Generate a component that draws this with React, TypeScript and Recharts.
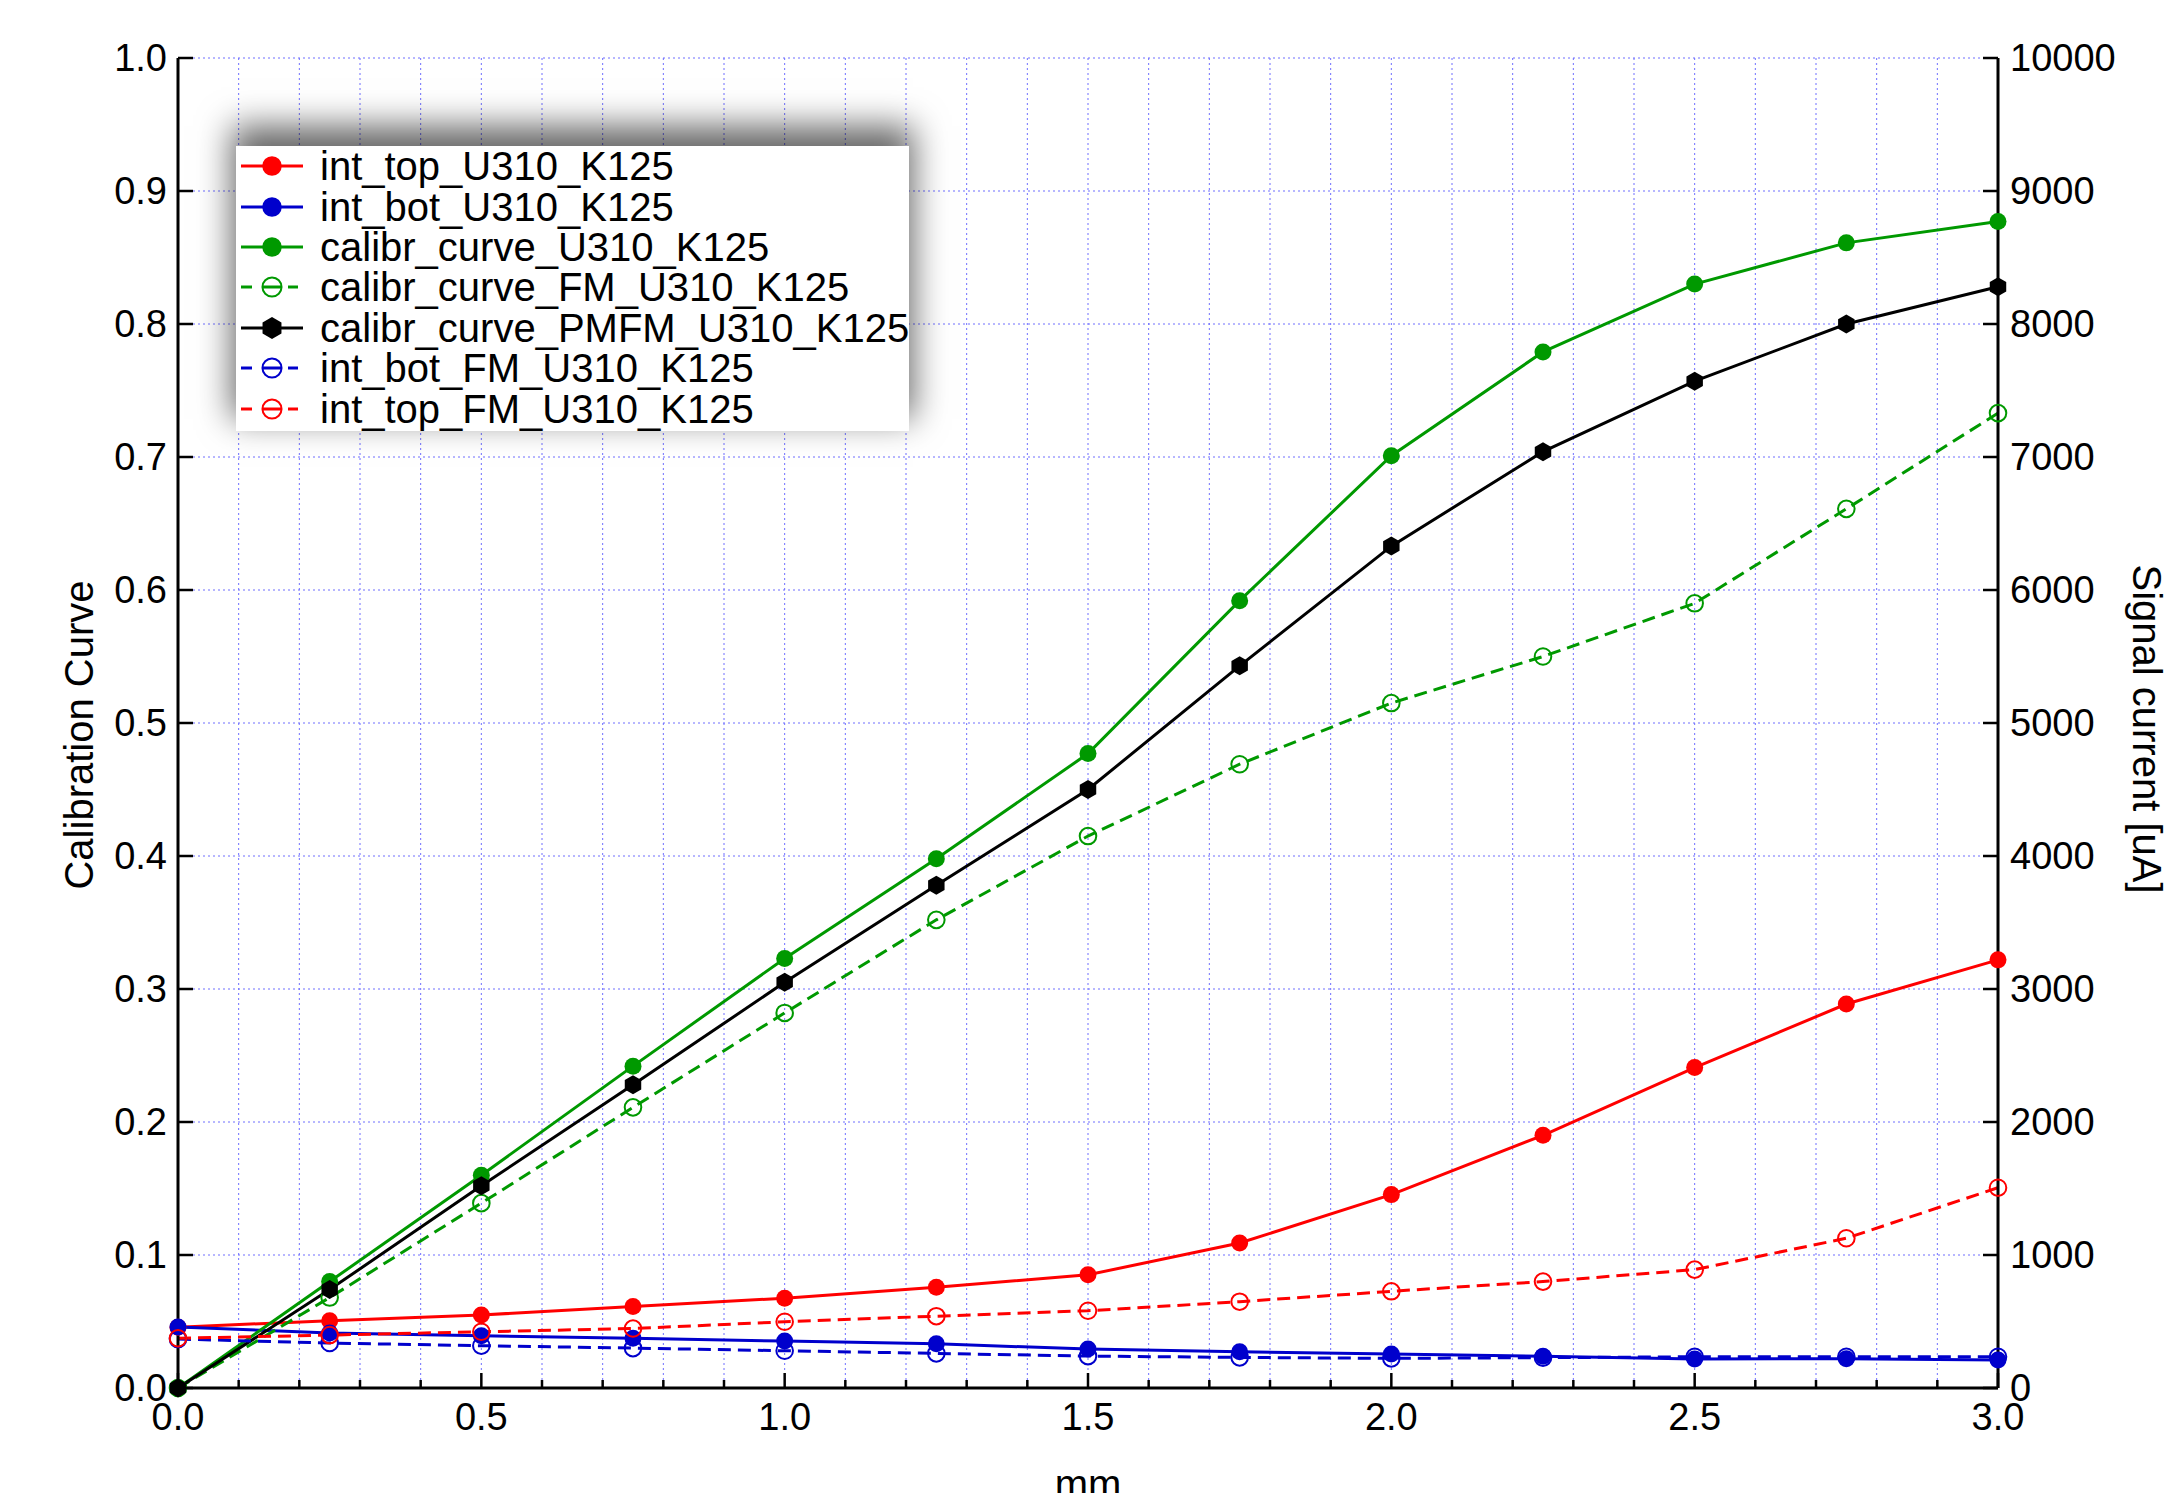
import { LineChart, Line, XAxis, YAxis, CartesianGrid, Legend, Label } from 'recharts';

const FONT = '"Liberation Sans", Arial, Helvetica, sans-serif';

// x positions [mm]
const positionsMm = [0, 0.25, 0.5, 0.75, 1.0, 1.25, 1.5, 1.75, 2.0, 2.25, 2.5, 2.75, 3.0];

// signal currents [uA] (right axis)
const intTop = [457, 506, 549, 613, 675, 758, 851, 1090, 1454, 1900, 2409, 2887, 3219];
const intBot = [459, 413, 393, 374, 353, 332, 293, 273, 256, 239, 218, 220, 210];
const intBotFM = [368, 338, 318, 300, 280, 260, 240, 230, 223, 228, 235, 235, 235];
const intTopFM = [374, 398, 423, 447, 498, 540, 581, 649, 727, 800, 890, 1126, 1506];

// calibration curves (left axis)
const calibrCurve = [0, 0.08, 0.16, 0.242, 0.323, 0.398, 0.477, 0.592, 0.701, 0.779, 0.83, 0.861, 0.877];
const calibrCurveFM = [0, 0.068, 0.139, 0.211, 0.282, 0.352, 0.415, 0.469, 0.515, 0.55, 0.59, 0.661, 0.733];
const calibrCurvePMFM = [0, 0.074, 0.152, 0.228, 0.305, 0.378, 0.45, 0.543, 0.633, 0.704, 0.757, 0.8, 0.828];

// ticks
const xTicks = [0, 0.1, 0.2, 0.3, 0.4, 0.5, 0.6, 0.7, 0.8, 0.9, 1.0, 1.1, 1.2, 1.3, 1.4, 1.5, 1.6, 1.7, 1.8, 1.9, 2.0,
    2.1, 2.2, 2.3, 2.4, 2.5, 2.6, 2.7, 2.8, 2.9, 3.0];
const xLabelTicks = [0, 0.5, 1.0, 1.5, 2.0, 2.5, 3.0];
const leftTicks = [0, 0.1, 0.2, 0.3, 0.4, 0.5, 0.6, 0.7, 0.8, 0.9, 1.0];
const rightTicks = [0, 1000, 2000, 3000, 4000, 5000, 6000, 7000, 8000, 9000, 10000];

type Series = {
    key: string;
    name: string;
    color: string;
    axis: 'left' | 'right';
    dashed: boolean;
    marker: 'dot' | 'open' | 'hex';
    values: number[];
};

const series: Series[] = [
    { key: 'intTop', name: 'int_top_U310_K125', color: '#ff0000', axis: 'right', dashed: false, marker: 'dot', values: intTop },
    { key: 'intBot', name: 'int_bot_U310_K125', color: '#0000cc', axis: 'right', dashed: false, marker: 'dot', values: intBot },
    { key: 'calibr', name: 'calibr_curve_U310_K125', color: '#009900', axis: 'left', dashed: false, marker: 'dot', values: calibrCurve },
    { key: 'calibrFM', name: 'calibr_curve_FM_U310_K125', color: '#009900', axis: 'left', dashed: true, marker: 'open', values: calibrCurveFM },
    { key: 'calibrPMFM', name: 'calibr_curve_PMFM_U310_K125', color: '#000000', axis: 'left', dashed: false, marker: 'hex', values: calibrCurvePMFM },
    { key: 'intBotFM', name: 'int_bot_FM_U310_K125', color: '#0000cc', axis: 'right', dashed: true, marker: 'open', values: intBotFM },
    { key: 'intTopFM', name: 'int_top_FM_U310_K125', color: '#ff0000', axis: 'right', dashed: true, marker: 'open', values: intTopFM },
];

const data = positionsMm.map((mm, i) => {
    const row: Record<string, number> = { mm };
    series.forEach(s => { row[s.key] = s.values[i]; });
    return row;
});

const hexPoints = (cx: number, cy: number, r: number) =>
    [0, 1, 2, 3, 4, 5].map(k => {
        const a = Math.PI / 2 + k * Math.PI / 3;
        return `${cx + r * Math.cos(a)},${cy - r * Math.sin(a)}`;
    }).join(' ');

function Marker({ cx, cy, kind, color, size = 1 }: { cx: number; cy: number; kind: string; color: string; size?: number }) {
    if (kind === 'hex') return <polygon points={hexPoints(cx, cy, 9.5 * size)} fill={color} />;
    if (kind === 'open') return <circle cx={cx} cy={cy} r={8.3 * size} fill="none" stroke={color} strokeWidth={2} />;
    return <circle cx={cx} cy={cy} r={8.5 * size} fill={color} />;
}

const isMajor = (v: number) => xLabelTicks.some(t => Math.abs(t - v) < 1e-6);

function BottomTick(props: any) {
    const { x, y, payload } = props;
    const v = payload.value as number;
    const major = isMajor(v);
    return (
        <g>
            <line x1={x} y1={y} x2={x} y2={y - (major ? 15 : 8)} stroke="#000" strokeWidth={2.5} />
            {major && (
                <text x={x} y={y + 42} textAnchor="middle" fontSize={38} fontFamily={FONT} fill="#000">
                    {v.toFixed(1)}
                </text>
            )}
        </g>
    );
}

function TopTick(props: any) {
    const { x, y, payload } = props;
    const major = isMajor(payload.value);
    return <line x1={x} y1={y} x2={x} y2={y + (major ? 15 : 8)} stroke="#000" strokeWidth={2.5} />;
}

function LeftTick(props: any) {
    const { x, y, payload } = props;
    return (
        <g>
            <line x1={x} y1={y} x2={x + 15} y2={y} stroke="#000" strokeWidth={2.5} />
            <text x={x - 11} y={y + 13} textAnchor="end" fontSize={38} fontFamily={FONT} fill="#000">
                {(payload.value as number).toFixed(1)}
            </text>
        </g>
    );
}

function RightTick(props: any) {
    const { x, y, payload } = props;
    return (
        <g>
            <line x1={x} y1={y} x2={x - 15} y2={y} stroke="#000" strokeWidth={2.5} />
            <text x={x + 12} y={y + 13} textAnchor="start" fontSize={38} fontFamily={FONT} fill="#000">
                {String(payload.value)}
            </text>
        </g>
    );
}

function LegendSymbol({ s }: { s: Series }) {
    return (
        <svg width={84} height={40} style={{ flex: 'none' }}>
            {s.dashed ? (
                <g stroke={s.color} strokeWidth={3}>
                    <line x1={5} y1={20} x2={16} y2={20} />
                    <line x1={26} y1={20} x2={46} y2={20} />
                    <line x1={52} y1={20} x2={62} y2={20} />
                </g>
            ) : (
                <line x1={5} y1={20} x2={67} y2={20} stroke={s.color} strokeWidth={3} />
            )}
            <Marker cx={36} cy={20} kind={s.marker} color={s.color} size={1.15} />
        </svg>
    );
}

function LegendBox() {
    return (
        <div
            style={{
                background: '#fff',
                width: 673,
                height: 285,
                boxShadow: '0 -16px 32px 4px rgba(0,0,0,0.6)',
                fontFamily: FONT,
            }}
        >
            {series.map(s => (
                <div key={s.key} style={{ display: 'flex', alignItems: 'center', height: 40.4 }}>
                    <LegendSymbol s={s} />
                    <span style={{ fontSize: 40, lineHeight: '40px', color: '#000', whiteSpace: 'nowrap' }}>{s.name}</span>
                </div>
            ))}
        </div>
    );
}

export default function App() {
    return (
        <div style={{ position: 'absolute', left: 0, top: 0, width: 2166, height: 1493, background: '#fff' }}>
            <LineChart
                width={2166}
                height={1493}
                data={data}
                margin={{ top: 58, right: 0, bottom: 0, left: 0 }}
                style={{ fontFamily: FONT }}
            >
                <CartesianGrid
                    stroke="#6f6fff"
                    strokeDasharray="2 3"
                    strokeWidth={1}
                    syncWithTicks
                    horizontalValues={leftTicks}
                    verticalValues={xTicks}
                />
                <XAxis
                    dataKey="mm"
                    type="number"
                    domain={[0, 3]}
                    ticks={xTicks}
                    interval={0}
                    height={105}
                    tickSize={0}
                    tickMargin={0}
                    tick={<BottomTick />}
                    axisLine={{ stroke: '#000', strokeWidth: 3 }}
                    tickLine={false}
                >
                    <Label
                        content={(p: any) => {
                            const vb = p.viewBox || { x: 178, y: 1388, width: 1820, height: 105 };
                            return (
                                <text x={vb.x + vb.width / 2} y={vb.y + 110} textAnchor="middle" fontSize={40} fontFamily={FONT} fill="#000">
                                    mm
                                </text>
                            );
                        }}
                    />
                </XAxis>
                <XAxis
                    xAxisId="top"
                    dataKey="mm"
                    type="number"
                    orientation="top"
                    domain={[0, 3]}
                    ticks={xTicks}
                    interval={0}
                    height={0}
                    tickSize={0}
                    tickMargin={0}
                    tick={<TopTick />}
                    axisLine={{ stroke: '#000', strokeWidth: 3 }}
                    tickLine={false}
                />
                <YAxis
                    type="number"
                    domain={[0, 1]}
                    ticks={leftTicks}
                    interval={0}
                    width={178}
                    tickSize={0}
                    tickMargin={0}
                    tick={<LeftTick />}
                    axisLine={{ stroke: '#000', strokeWidth: 3 }}
                    tickLine={false}
                >
                    <Label
                        content={(p: any) => {
                            const vb = p.viewBox || { x: 0, y: 58, width: 178, height: 1330 };
                            const cx = vb.x + 93;
                            const cy = vb.y + vb.height / 2 + 12;
                            return (
                                <text x={cx} y={cy} transform={`rotate(-90, ${cx}, ${cy})`} textAnchor="middle" fontSize={40} fontFamily={FONT} fill="#000">
                                    Calibration Curve
                                </text>
                            );
                        }}
                    />
                </YAxis>
                <YAxis
                    yAxisId="right"
                    orientation="right"
                    type="number"
                    domain={[0, 10000]}
                    ticks={rightTicks}
                    interval={0}
                    width={168}
                    tickSize={0}
                    tickMargin={0}
                    tick={<RightTick />}
                    axisLine={{ stroke: '#000', strokeWidth: 3 }}
                    tickLine={false}
                >
                    <Label
                        content={(p: any) => {
                            const vb = p.viewBox || { x: 1998, y: 58, width: 168, height: 1330 };
                            const cx = vb.x + 135;
                            const cy = vb.y + vb.height / 2 + 6;
                            return (
                                <text x={cx} y={cy} transform={`rotate(90, ${cx}, ${cy})`} textAnchor="middle" fontSize={40} fontFamily={FONT} fill="#000">
                                    Signal current [uA]
                                </text>
                            );
                        }}
                    />
                </YAxis>
                {series.map(s => (
                    <Line
                        key={s.key}
                        dataKey={s.key}
                        name={s.name}
                        yAxisId={s.axis === 'right' ? 'right' : 0}
                        stroke={s.color}
                        strokeWidth={3}
                        strokeDasharray={s.dashed ? '13 7' : undefined}
                        type="linear"
                        isAnimationActive={false}
                        activeDot={false}
                        dot={(p: any) => (
                            <Marker key={`${s.key}-${p.index}`} cx={p.cx} cy={p.cy} kind={s.marker} color={s.color} />
                        )}
                    />
                ))}
                <Legend
                    layout="vertical"
                    align="center"
                    verticalAlign="middle"
                    wrapperStyle={{ position: 'absolute', left: 236, top: 146, width: 673, height: 285 }}
                    content={() => <LegendBox />}
                />
            </LineChart>
        </div>
    );
}
